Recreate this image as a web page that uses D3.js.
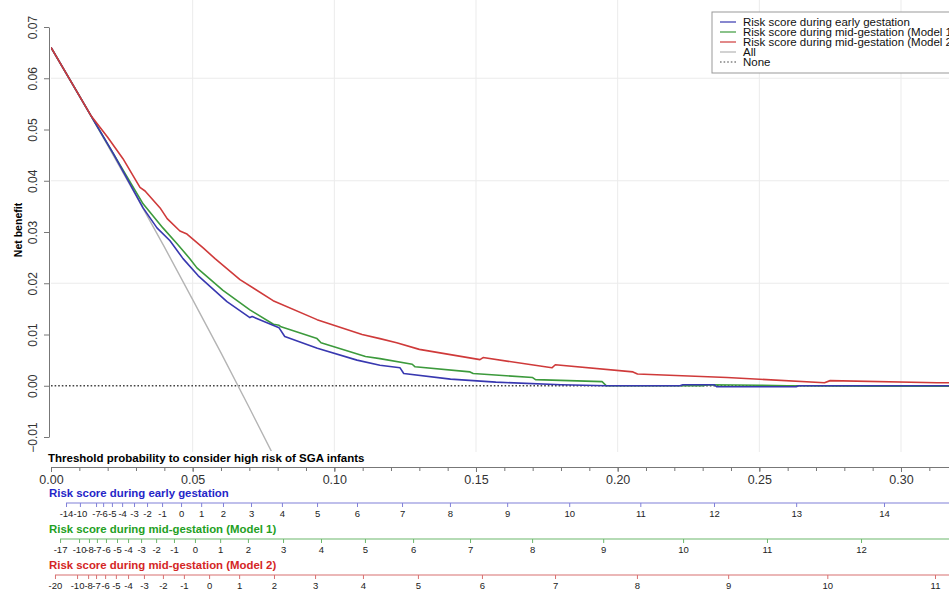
<!DOCTYPE html>
<html>
<head>
<meta charset="utf-8">
<script src="https://cdn.jsdelivr.net/npm/d3@7"></script>
<style>
  body { margin: 0; background: #fff; }
  svg { font-family: "Liberation Sans", Arial, sans-serif; display: block; }
</style>
</head>
<body>
<svg id="viz" width="949" height="591"></svg>
<script>
// 決定曲線のデータ
const earlyT  = [0, 0.0145, 0.022, 0.0325, 0.0374, 0.042, 0.0466, 0.0519, 0.0621, 0.0702, 0.071, 0.0805, 0.0825, 0.094, 0.108, 0.1161, 0.1232, 0.1245, 0.141, 0.157, 0.18, 0.196, 0.222, 0.223, 0.234, 0.235, 0.263, 0.264, 0.35];
const earlyNB = [0.066, 0.0523, 0.0453, 0.0347, 0.0308, 0.0283, 0.0248, 0.0215, 0.0164, 0.0133, 0.0135, 0.0113, 0.0096, 0.0073, 0.0050, 0.0040, 0.0035, 0.0024, 0.0013, 0.0007, 0.0002, 0.0000, 0.0000, 0.0002, 0.0002, -0.0002, -0.0002, 0.0000, 0.0000];

const mid1T  = [0, 0.0145, 0.022, 0.0325, 0.0395, 0.0445, 0.049, 0.0515, 0.0607, 0.0702, 0.0785, 0.0805, 0.0812, 0.0939, 0.0953, 0.111, 0.1161, 0.1275, 0.1285, 0.1479, 0.149, 0.170, 0.171, 0.1945, 0.196, 0.23, 0.232, 0.25, 0.26, 0.29, 0.35];
const mid1NB = [0.066, 0.0523, 0.0453, 0.0355, 0.0308, 0.0277, 0.0248, 0.0230, 0.0186, 0.0148, 0.0120, 0.0118, 0.0115, 0.0092, 0.0084, 0.0057, 0.0053, 0.0042, 0.0037, 0.0027, 0.0024, 0.0016, 0.0012, 0.0008, 0.0000, 0.0000, 0.0002, 0.0001, 0.0000, -0.0001, -0.0001];

const mid2T  = [0, 0.014, 0.02, 0.0254, 0.0314, 0.0332, 0.0385, 0.041, 0.0455, 0.048, 0.0537, 0.0579, 0.0667, 0.0784, 0.0939, 0.1098, 0.1161, 0.122, 0.13, 0.1514, 0.1525, 0.1768, 0.178, 0.2054, 0.207, 0.2386, 0.273, 0.275, 0.3127, 0.35];
const mid2NB = [0.066, 0.0528, 0.0485, 0.0443, 0.0387, 0.0380, 0.0347, 0.0326, 0.0302, 0.0296, 0.0269, 0.0248, 0.0207, 0.0166, 0.0129, 0.0100, 0.0092, 0.0084, 0.0071, 0.0051, 0.0055, 0.0035, 0.0041, 0.0027, 0.0023, 0.0016, 0.0006, 0.0010, 0.0006, 0.0004];

const allT  = [0, 0.01, 0.02, 0.03, 0.04, 0.05, 0.06, 0.07, 0.08];
const allNB = [0.066, 0.0566, 0.0469, 0.0371, 0.0271, 0.0168, 0.0064, -0.0043, -0.0152];

const noneT  = [0, 0.35];
const noneNB = [0, 0];

// リスクスコア軸（スコア → 閾値確率）
const earlyScores = [-14, -10, -7, -6, -5, -4, -3, -2, -1, 0, 1, 2, 3, 4, 5, 6, 7, 8, 9, 10, 11, 12, 13, 14];
const earlyProbs  = [0.0053, 0.0102, 0.0159, 0.0184, 0.0215, 0.0251, 0.0293, 0.0339, 0.0392, 0.0459, 0.0530, 0.0607, 0.0706, 0.0815, 0.0939, 0.108, 0.1239, 0.1408, 0.161, 0.1829, 0.208, 0.234, 0.263, 0.294];

const mid1Scores = [-17, -10, -8, -7, -6, -5, -4, -3, -2, -1, 0, 1, 2, 3, 4, 5, 6, 7, 8, 9, 10, 11, 12];
const mid1Probs  = [0.0032, 0.0099, 0.0134, 0.0162, 0.0194, 0.0233, 0.0272, 0.0318, 0.0371, 0.0434, 0.0508, 0.0597, 0.0695, 0.0819, 0.0953, 0.1108, 0.1278, 0.1479, 0.1698, 0.1949, 0.2231, 0.2527, 0.2859];

const mid2Scores = [-20, -10, -8, -7, -6, -5, -4, -3, -2, -1, 0, 1, 2, 3, 4, 5, 6, 7, 8, 9, 10, 11];
const mid2Probs  = [0.0014, 0.0092, 0.0131, 0.0159, 0.0191, 0.0229, 0.0272, 0.0328, 0.0395, 0.0469, 0.0558, 0.0664, 0.0787, 0.0932, 0.1101, 0.1295, 0.1521, 0.1779, 0.2068, 0.239, 0.274, 0.312];

const legendLabels = [
  "Risk score during early gestation",
  "Risk score during mid-gestation (Model 1)",
  "Risk score during mid-gestation (Model 2)",
  "All",
  "None"
];

const svg = d3.select("#viz");
const W = 949;

const x = d3.scaleLinear().domain([0, 0.35]).range([51, 51 + 0.35 * 2833.3]);
const y = d3.scaleLinear().domain([-0.01, 0.07]).range([437, 27]);

// グリッド
const grid = svg.append("g").attr("class", "grid");
grid.selectAll("line.v")
  .data(d3.range(0.05, 0.351, 0.05))
  .enter().append("line")
  .attr("x1", d => x(d)).attr("x2", d => x(d))
  .attr("y1", 0).attr("y2", 452)
  .attr("stroke", "#ebebeb").attr("stroke-width", 1);
grid.selectAll("line.h")
  .data([0.02, 0.04, 0.06])
  .enter().append("line")
  .attr("x1", x(0)).attr("x2", W)
  .attr("y1", d => y(d)).attr("y2", d => y(d))
  .attr("stroke", "#ebebeb").attr("stroke-width", 1);

// クリップ
svg.append("clipPath").attr("id", "plotclip")
  .append("rect").attr("x", x(0)).attr("y", 0).attr("width", W).attr("height", 451);

const line = d3.line().x(d => x(d[0])).y(d => y(d[1]));
const series = [
  { t: noneT, nb: noneNB, color: "#444", width: 1.6, dash: "1.6,2" },
  { t: allT, nb: allNB, color: "#b4b4b4", width: 1.4 },
  { t: mid1T, nb: mid1NB, color: "#3c9a3c", width: 1.6 },
  { t: earlyT, nb: earlyNB, color: "#3838b0", width: 1.6 },
  { t: mid2T, nb: mid2NB, color: "#cf3a3a", width: 1.6 }
];

svg.append("g").attr("clip-path", "url(#plotclip)")
  .selectAll("path")
  .data(series)
  .enter().append("path")
  .attr("d", s => line(s.t.map((t, i) => [t, s.nb[i]])))
  .attr("fill", "none")
  .attr("stroke", s => s.color)
  .attr("stroke-width", s => s.width)
  .attr("stroke-dasharray", s => s.dash || null)
  .attr("stroke-linejoin", "round");

// Y軸
const yAxis = svg.append("g")
  .attr("transform", "translate(49,0)")
  .call(d3.axisLeft(y).tickValues(d3.range(-0.01, 0.0701, 0.01)).tickFormat(d3.format(".2f")).tickSize(5).tickSizeOuter(0));
yAxis.select(".domain").attr("stroke", "#777");
yAxis.selectAll(".tick line").attr("stroke", "#777");
yAxis.selectAll(".tick text")
  .attr("transform", "rotate(-90)")
  .attr("x", 0).attr("y", -12)
  .attr("dy", "0")
  .attr("text-anchor", "middle")
  .attr("fill", "#333")
  .style("font-size", "12px");

svg.append("text")
  .attr("transform", "translate(22,230) rotate(-90)")
  .attr("text-anchor", "middle")
  .style("font-size", "10.5px").style("font-weight", "bold")
  .text("Net benefit");

// X軸（閾値確率）
svg.append("text")
  .attr("x", 48).attr("y", 462)
  .style("font-size", "11.5px").style("font-weight", "bold")
  .text("Threshold probability to consider high risk of SGA infants");

const xMinor = svg.append("g")
  .attr("transform", "translate(0,467)")
  .call(d3.axisBottom(x).tickValues(d3.range(0, 0.351, 0.01)).tickFormat("").tickSize(4).tickSizeOuter(0));
xMinor.select(".domain").attr("stroke", "#777");
xMinor.selectAll(".tick line").attr("stroke", "#777");

const xAxis = svg.append("g")
  .attr("transform", "translate(0,467)")
  .call(d3.axisBottom(x).tickValues(d3.range(0, 0.351, 0.05)).tickFormat(d3.format(".2f")).tickSize(5).tickSizeOuter(0));
xAxis.select(".domain").remove();
xAxis.selectAll(".tick line").attr("stroke", "#777");
xAxis.selectAll(".tick text").attr("fill", "#333").attr("y", 8).style("font-size", "12.5px");

// リスクスコア軸
const scoreAxes = [
  { title: legendLabels[0], scores: earlyScores, probs: earlyProbs, y: 503, titleColor: "#2525c8", lineColor: "#8080d8" },
  { title: legendLabels[1], scores: mid1Scores, probs: mid1Probs, y: 539, titleColor: "#23a023", lineColor: "#6cb86c" },
  { title: legendLabels[2], scores: mid2Scores, probs: mid2Probs, y: 575, titleColor: "#d42525", lineColor: "#d87070" }
];

scoreAxes.forEach(a => {
  svg.append("text")
    .attr("x", 49).attr("y", a.y - 6)
    .attr("fill", a.titleColor)
    .style("font-size", "11.4px").style("font-weight", "bold")
    .text(a.title);
  const g = svg.append("g")
    .attr("transform", `translate(0,${a.y})`)
    .call(d3.axisBottom(x).tickValues(a.probs).tickFormat((d, i) => a.scores[i]).tickSize(4).tickSizeOuter(0));
  g.select(".domain").remove();
  g.append("line")
    .attr("x1", x(a.probs[0])).attr("x2", W)
    .attr("stroke", a.lineColor).attr("stroke-width", 1.2);
  g.selectAll(".tick line").attr("stroke", a.lineColor);
  g.selectAll(".tick text").attr("fill", "#222").attr("y", 7).style("font-size", "9.5px");
});

// 凡例
const legend = svg.append("g").attr("transform", "translate(712,12)");
legend.append("rect")
  .attr("width", 260).attr("height", 61)
  .attr("fill", "#fff").attr("stroke", "#999").attr("stroke-width", 1);
const legendStyles = [series[3], series[2], series[4], series[1], series[0]];
legendLabels.forEach((lab, i) => {
  const s = legendStyles[i];
  const row = legend.append("g").attr("transform", `translate(0,${10 + i * 10})`);
  row.append("line")
    .attr("x1", 8).attr("x2", 24)
    .attr("stroke", s.color).attr("stroke-width", 1.2)
    .attr("stroke-dasharray", s.dash || null);
  row.append("text")
    .attr("x", 31).attr("dy", "0.35em")
    .attr("fill", "#111")
    .style("font-size", "11.5px")
    .text(lab);
});
</script>
</body>
</html>
